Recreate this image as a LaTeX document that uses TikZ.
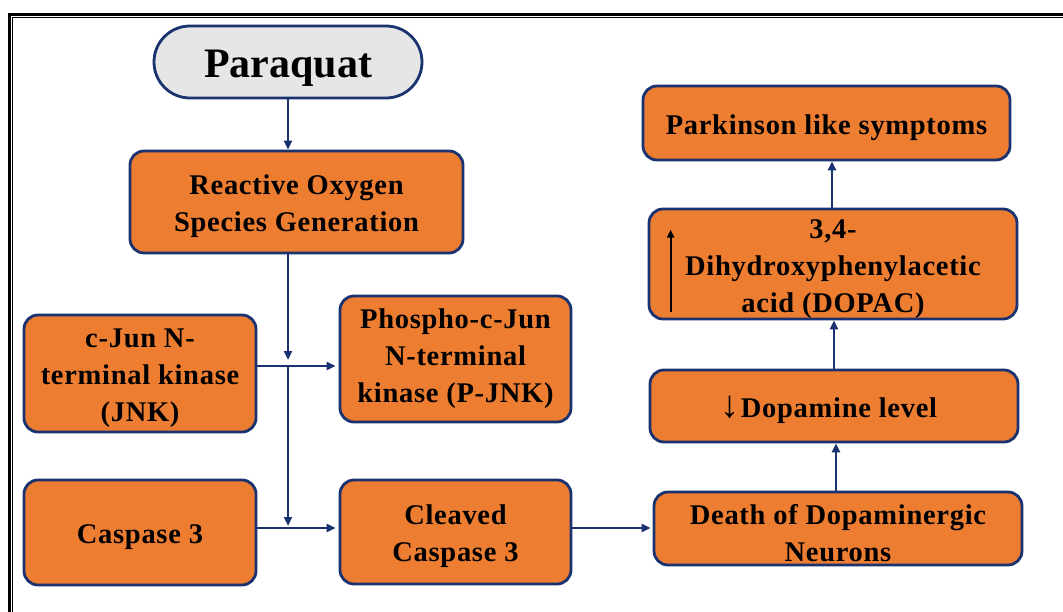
\documentclass[tikz,border=0pt]{standalone}
\usepackage{fontspec}
\setmainfont{Liberation Serif}
\usetikzlibrary{arrows.meta,calc}
\definecolor{boxorange}{HTML}{ED7D31}
\definecolor{navyline}{HTML}{1A3270}
\definecolor{paragray}{HTML}{E7E6E6}
\newcommand{\topstrut}{\rule{0pt}{29pt}}
\begin{document}
\begin{tikzpicture}[x=1pt,y=-1pt,
  box/.style={draw=navyline, line width=2.8pt, fill=boxorange, rounded corners=14pt,
    inner sep=0pt, align=center,
    font=\fontsize{28.5}{37}\selectfont\bfseries\addfontfeatures{LetterSpace=2.5}},
  conn/.style={draw=navyline, line width=2.4pt, -{Triangle[length=9pt,width=8pt]}},
  frameouter/.style={draw=black, line width=2.6pt},
  frameinner/.style={draw=black, line width=1pt}]
\useasboundingbox (0,0) rectangle (1063,612);
\fill[white] (0,0) rectangle (1063,612);
% frame
\draw[frameouter] (1075,14.5) -- (9.5,14.5) -- (9.5,625);
\draw[frameinner] (1075,17.8) -- (12.8,17.8) -- (12.8,625);
% nodes
\node[box, fill=paragray, rounded corners=36pt, minimum width=268pt, minimum height=72pt,
  font=\fontsize{42}{48}\selectfont\bfseries] (par) at (288,62) {\rule{0pt}{40pt}Paraquat};
\node[box, minimum width=333pt, minimum height=102pt] (ros) at (296.5,202)
  {\topstrut Reactive Oxygen\\Species Generation};
\node[box, minimum width=232pt, minimum height=117pt] (jnk) at (140,373.5)
  {\topstrut c-Jun N-\\terminal kinase\\(JNK)};
\node[box, minimum width=231pt, minimum height=126pt] (pjnk) at (455.5,359)
  {Phospho-c-Jun\\N-terminal\\kinase (P-JNK)};
\node[box, minimum width=232pt, minimum height=105pt] (casp) at (140,532.5)
  {\topstrut Caspase 3};
\node[box, minimum width=231pt, minimum height=104pt] (clv) at (455.5,532)
  {\topstrut Cleaved\\Caspase 3};
\node[box, minimum width=368pt, minimum height=73pt] (death) at (838,528.5)
  {\topstrut Death of Dopaminergic\\Neurons};
\node[box, minimum width=368pt, minimum height=72pt] (dop) at (834,406)
  {\topstrut{\fontsize{38}{37}\selectfont ↓}\kern1pt Dopamine level\kern10pt};
\node[box, minimum width=368pt, minimum height=110pt] (dopac) at (833,264)
  {\topstrut 3,4-\\Dihydroxyphenylacetic\\acid (DOPAC)};
\node[box, minimum width=367pt, minimum height=74pt] (park) at (826.5,123)
  {\topstrut Parkinson like symptoms};
% up arrow inside DOPAC box
\draw[black, line width=2.2pt, -{Triangle[length=8pt,width=7pt]}]
  ($(dopac.south west)+(23,-8)$) -- ($(dopac.north west)+(23,22)$);
% connectors
\coordinate (j1) at (288,366);
\coordinate (j2) at (288,528);
\coordinate (a1) at (836,0);
\coordinate (a2) at (834,0);
\coordinate (a3) at (832,0);
\draw[conn] (par.south) -- (par.south |- ros.north);
\draw[conn] (ros.south -| j1) -- ($(j1)+(0,-6)$);
\draw[conn] (j1) -- ($(j2)+(0,-2)$);
\draw[conn, shorten >=3pt] (jnk.east |- j1) -- (pjnk.west |- j1);
\draw[conn, shorten >=3pt] (casp.east |- j2) -- (clv.west |- j2);
\draw[conn, shorten >=2pt] (clv.east |- j2) -- (death.west |- j2);
\draw[conn] (death.north -| a1) -- (dop.south -| a1);
\draw[conn] (dop.north -| a2) -- (dopac.south -| a2);
\draw[conn] (dopac.north -| a3) -- (park.south -| a3);
\end{tikzpicture}
\end{document}
